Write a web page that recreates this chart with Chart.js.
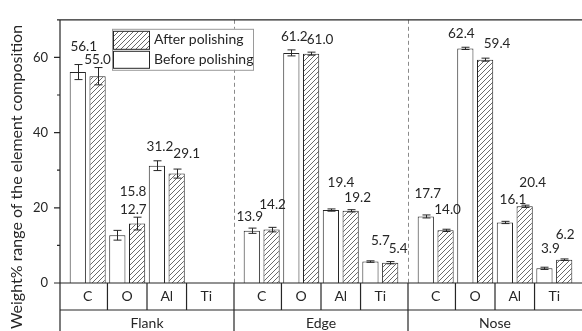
<!DOCTYPE html>
<html lang="en">
<head>
<meta charset="UTF-8">
<title>Weight% range of the element composition</title>
<script src="https://cdn.jsdelivr.net/npm/chart.js"></script>
<style>
  body { margin: 0; background: #fff; }
  #wrap { width: 582px; height: 331px; }
</style>
</head>
<body>
<div id="wrap"><canvas id="chart" width="582" height="331"></canvas></div>
<script>
// data
const regions = ['Flank', 'Edge', 'Nose'];
const elements = ['C', 'O', 'Al', 'Ti'];
const beforeValues = [56.1, 12.7, 31.2, null, 13.9, 61.2, 19.4, 5.7, 17.7, 62.4, 16.1, 3.9];
const afterValues  = [55.0, 15.8, 29.1, null, 14.2, 61.0, 19.2, 5.4, 14.0, 59.4, 20.4, 6.2];
const beforeErrors = [2.0, 1.3, 1.3, null, 0.7, 0.8, 0.3, 0.2, 0.4, 0.3, 0.3, 0.3];
const afterErrors  = [2.3, 1.7, 1.2, null, 0.6, 0.4, 0.3, 0.3, 0.3, 0.4, 0.3, 0.2];
const yTickLabels = [0, 20, 40, 60];

// x layout in category units: every region = small pad + 4 slots + small pad
const PAD = 0.7, SPAN = 4.4;
const xPos = i => Math.floor(i / 4) * SPAN + PAD + (i % 4);
const nCats = regions.length * elements.length;
const catPositions = Array.from({ length: nCats }, (_, i) => xPos(i));

const INK = '#262626';
const FONT = 'Lato, "Open Sans", sans-serif';

// hatch pattern for "After polishing"
function hatch() {
  const c = document.createElement('canvas');
  c.width = 5; c.height = 5;
  const g = c.getContext('2d');
  g.fillStyle = '#fff';
  g.fillRect(0, 0, 5, 5);
  g.strokeStyle = '#6a6a6a';
  g.lineWidth = 1;
  g.beginPath();
  g.moveTo(0, 5); g.lineTo(5, 0);
  g.moveTo(-1, 1); g.lineTo(1, -1);
  g.moveTo(4, 6); g.lineTo(6, 4);
  g.stroke();
  return g.createPattern(c, 'repeat');
}
const hatchFill = hatch();

// hand placement of the value labels (dx, dy above bar top, px)
const labelPlacement = {
  before: [[6, 25], [16, 26], [3, 19], null, [-2, 14], [3, 16], [10, 27], [10, 21], [2, 23], [-4, 15], [8, 23], [6, 20]],
  after:  [[0, 17], [-4, 32], [10, 20], null, [1, 25], [9, 14], [7, 13], [8, 14], [2, 21], [12, 16], [8, 24], [1, 25]]
};

const errorBars = {
  id: 'errorBars',
  afterDatasetsDraw(chart) {
    const ctx = chart.ctx, y = chart.scales.y;
    [beforeErrors, afterErrors].forEach((errs, d) => {
      const vals = d === 0 ? beforeValues : afterValues;
      chart.getDatasetMeta(d).data.forEach((bar, i) => {
        if (vals[i] == null) return;
        const t = y.getPixelForValue(vals[i] + errs[i]);
        const b = y.getPixelForValue(vals[i] - errs[i]);
        const x = Math.round(bar.x) + 0.5;
        ctx.save();
        ctx.strokeStyle = INK;
        ctx.lineWidth = 1;
        ctx.beginPath();
        ctx.moveTo(x, t); ctx.lineTo(x, b);
        ctx.moveTo(x - 4, t); ctx.lineTo(x + 4, t);
        ctx.moveTo(x - 4, b); ctx.lineTo(x + 4, b);
        ctx.stroke();
        ctx.restore();
      });
    });
  }
};

const valueLabels = {
  id: 'valueLabels',
  afterDatasetsDraw(chart) {
    const ctx = chart.ctx, y = chart.scales.y;
    ctx.save();
    ctx.font = '13.5px ' + FONT;
    ctx.fillStyle = INK;
    ctx.textAlign = 'center';
    ctx.textBaseline = 'middle';
    [beforeValues, afterValues].forEach((vals, d) => {
      const place = d === 0 ? labelPlacement.before : labelPlacement.after;
      chart.getDatasetMeta(d).data.forEach((bar, i) => {
        if (vals[i] == null) return;
        const [dx, dy] = place[i];
        ctx.fillText(vals[i].toFixed(1), bar.x + dx, y.getPixelForValue(vals[i]) - dy);
      });
    });
    ctx.restore();
  }
};

const frame = {
  id: 'frame',
  beforeDatasetsDraw(chart) {
    const { ctx, chartArea: a, scales: { x } } = chart;
    ctx.save();
    ctx.strokeStyle = '#8a8a8a';
    ctx.lineWidth = 1;
    ctx.setLineDash([4, 3]);
    for (let g = 1; g < regions.length; g++) {
      const px = Math.round(x.getPixelForValue(g * SPAN)) + 0.5;
      ctx.beginPath();
      ctx.moveTo(px, a.top); ctx.lineTo(px, a.bottom);
      ctx.stroke();
    }
    ctx.restore();
  },
  afterDraw(chart) {
    const { ctx, chartArea: a, scales: { x, y } } = chart;
    const H = chart.height;
    const row = a.bottom + 27;
    ctx.save();
    ctx.strokeStyle = INK;
    ctx.lineWidth = 1.2;
    ctx.beginPath();
    // top, left, axis, table rows
    ctx.moveTo(a.left - 3, a.top); ctx.lineTo(a.right, a.top);
    ctx.moveTo(a.left, a.top); ctx.lineTo(a.left, H);
    ctx.moveTo(a.left, a.bottom); ctx.lineTo(a.right, a.bottom);
    ctx.moveTo(a.left, row); ctx.lineTo(a.right, row);
    // cell dividers
    for (let g = 0; g < regions.length; g++) {
      for (let k = 1; k < elements.length; k++) {
        const px = x.getPixelForValue(g * SPAN + PAD + k - 0.5);
        ctx.moveTo(px, a.bottom); ctx.lineTo(px, row);
      }
      if (g > 0) {
        const px = x.getPixelForValue(g * SPAN);
        ctx.moveTo(px, a.bottom); ctx.lineTo(px, H);
      }
    }
    // y ticks, outward
    for (let v = 0; v <= 70; v += 10) {
      const py = y.getPixelForValue(v);
      const len = v % 20 === 0 ? 6 : 3;
      ctx.moveTo(a.left - len, py); ctx.lineTo(a.left, py);
    }
    ctx.stroke();

    // y title
    ctx.fillStyle = INK;
    ctx.font = '16px ' + FONT;
    ctx.textAlign = 'center';
    ctx.textBaseline = 'middle';
    ctx.translate(17, 177);
    ctx.rotate(-Math.PI / 2);
    ctx.fillText('Weight% range of the element composition', 0, 0);
    ctx.restore();

    // legend box
    const lx = a.left + 52, ly = a.top + 9;
    ctx.save();
    ctx.fillStyle = '#fff';
    ctx.fillRect(lx, ly, 141, 41);
    ctx.strokeStyle = '#9a9a9a';
    ctx.lineWidth = 1;
    ctx.strokeRect(lx + 0.5, ly + 0.5, 141, 41);
    ctx.strokeStyle = INK;
    ctx.fillStyle = hatchFill;
    ctx.fillRect(lx + 1.5, ly + 2.5, 36, 18);
    ctx.strokeRect(lx + 1.5, ly + 2.5, 36, 18);
    ctx.fillStyle = '#fff';
    ctx.fillRect(lx + 1.5, ly + 22.5, 36, 17);
    ctx.strokeRect(lx + 1.5, ly + 22.5, 36, 17);
    ctx.fillStyle = INK;
    ctx.font = '14px ' + FONT;
    ctx.textBaseline = 'middle';
    ctx.fillText('After polishing', lx + 42, ly + 11);
    ctx.fillText('Before polishing', lx + 42, ly + 31);
    ctx.restore();
  }
};

new Chart(document.getElementById('chart'), {
  type: 'bar',
  data: {
    datasets: [
      {
        label: 'Before polishing',
        data: beforeValues.map((v, i) => ({ x: catPositions[i], y: v })),
        backgroundColor: '#fff',
        borderColor: INK,
        borderWidth: 1,
        borderSkipped: 'bottom'
      },
      {
        label: 'After polishing',
        data: afterValues.map((v, i) => ({ x: catPositions[i], y: v })),
        backgroundColor: hatchFill,
        borderColor: INK,
        borderWidth: 1,
        borderSkipped: 'bottom'
      }
    ]
  },
  options: {
    responsive: false,
    animation: false,
    events: [],
    categoryPercentage: 1.0,
    barPercentage: 0.82,
    layout: { padding: { top: 9, left: 0, right: 0, bottom: 0 } },
    plugins: { legend: { display: false }, tooltip: { enabled: false } },
    scales: {
      x: {
        type: 'linear',
        offset: false,
        min: 0,
        max: SPAN * regions.length,
        grid: { display: false, drawTicks: false, offset: false },
        border: { display: false },
        afterBuildTicks: s => { s.ticks = catPositions.map(v => ({ value: v })); },
        afterFit: s => { s.height = 27; },
        ticks: {
          autoSkip: false, maxRotation: 0, padding: 5,
          color: INK, font: { family: FONT, size: 14 },
          callback: (v, i) => elements[i % elements.length]
        }
      },
      x2: {
        type: 'linear',
        position: 'bottom',
        offset: false,
        min: 0,
        max: SPAN * regions.length,
        grid: { display: false, drawTicks: false, offset: false },
        border: { display: false },
        afterBuildTicks: s => { s.ticks = regions.map((r, g) => ({ value: g * SPAN + SPAN / 2 })); },
        afterFit: s => { s.height = 21; },
        ticks: {
          autoSkip: false, maxRotation: 0, padding: 5,
          color: INK, font: { family: FONT, size: 14 },
          callback: (v, i) => regions[i]
        }
      },
      y: {
        min: 0,
        max: 70,
        grid: { display: false, drawTicks: false },
        border: { display: false },
        afterFit: s => { s.width = 60; },
        ticks: {
          stepSize: 10, padding: 12,
          color: INK, font: { family: FONT, size: 13 },
          callback: v => yTickLabels.includes(v) ? v : ''
        }
      }
    }
  },
  plugins: [frame, errorBars, valueLabels]
});
</script>
</body>
</html>
